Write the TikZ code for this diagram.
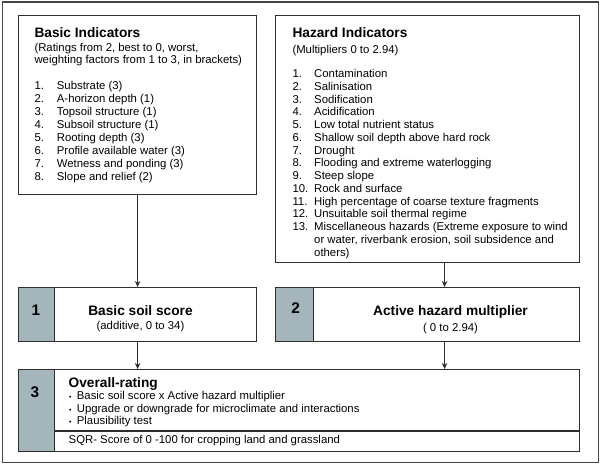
\documentclass[tikz,border=0pt]{standalone}
\usepackage{fontspec}
\setmainfont{Liberation Sans}
\usetikzlibrary{arrows.meta}
\definecolor{cellgray}{RGB}{165,181,188}
\definecolor{linecol}{RGB}{45,45,45}
\definecolor{framecol}{RGB}{70,70,70}
\begin{document}
\begin{tikzpicture}[x=1pt,y=-1pt,
  box/.style={draw=linecol,line width=1.2pt,rectangle,inner sep=0pt,anchor=north west},
  cell/.style={fill=cellgray,draw=linecol,line width=1.2pt,rectangle,inner sep=0pt,anchor=north west},
  ttl/.style={font=\fontsize{13.7}{15}\selectfont\bfseries,inner sep=0pt},
  txt/.style={font=\fontsize{11.35}{13}\selectfont,inner sep=0pt,anchor=base west},
  dig/.style={font=\fontsize{15.4}{16}\selectfont\bfseries,inner sep=0pt},
  arr/.style={draw=linecol,line width=1.1pt,-{Stealth[length=6pt,width=5.5pt]}}]
\useasboundingbox (0,0) rectangle (600,465);
% outer frame
\node[draw=framecol,line width=1.3pt,rectangle,inner sep=0pt,anchor=north west,minimum width=596pt,minimum height=460.5pt] (frame) at (1.5,1.5) {};
% basic indicators
\node[box,minimum width=238pt,minimum height=179pt] (basic) at (18,15) {};
\node[ttl,anchor=base west] (bt) at (34.3,37.3) {Basic Indicators};
\node[txt] (bs1) at (34.3,51.7) {(Ratings from 2, best to 0, worst,};
\node[txt] (bs2) at (34.3,63.5) {weighting factors from 1 to 3, in brackets)};
\foreach \t [count=\i] in {{Substrate (3)},{A-horizon depth (1)},{Topsoil structure (1)},{Subsoil structure (1)},{Rooting depth (3)},{Profile available water (3)},{Wetness and ponding (3)},{Slope and relief (2)}}{
  \node[txt] (bn\i) at (34.3,{90+(\i-1)*12.9}) {\i.};
  \node[txt] (bl\i) at (56.7,{90+(\i-1)*12.9}) {\t};
}
% hazard indicators
\node[box,minimum width=304pt,minimum height=247pt] (hazard) at (275,15) {};
\node[ttl,anchor=base west] (ht) at (292.3,37.3) {Hazard Indicators};
\node[txt] (hs1) at (292.3,54) {(Multipliers 0 to 2.94)};
\foreach \t [count=\i] in {{Contamination},{Salinisation},{Sodification},{Acidification},{Low total nutrient status},{Shallow soil depth above hard rock},{Drought},{Flooding and extreme waterlogging},{Steep slope},{Rock and surface},{High percentage of coarse texture fragments},{Unsuitable soil thermal regime},{Miscellaneous hazards (Extreme exposure to wind}}{
  \node[txt] (hn\i) at (292.3,{77.7+(\i-1)*12.75}) {\i.};
  \node[txt] (hl\i) at (314,{77.7+(\i-1)*12.75}) {\t};
}
\node[txt] (hc1) at (314,243.5) {or water, riverbank erosion, soil subsidence and};
\node[txt] (hc2) at (314,256.2) {others)};
% box 1
\node[box,minimum width=238pt,minimum height=54pt] (box1) at (18,287) {};
\node[cell,minimum width=36pt,minimum height=54pt] (cell1) at (18,287) {};
\node[dig] (d1) at (36,310) {1};
\node[ttl,anchor=base] (b1t) at (140.5,315.7) {Basic soil score};
\node[txt,anchor=base] (b1s) at (140.5,329) {(additive, 0 to 34)};
% box 2
\node[box,minimum width=304pt,minimum height=54pt] (box2) at (275,287) {};
\node[cell,minimum width=38pt,minimum height=54pt] (cell2) at (275,287) {};
\node[dig] (d2) at (295.7,308.5) {2};
\node[ttl,anchor=base] (b2t) at (450.5,316) {Active hazard multiplier};
\node[txt,anchor=base] (b2s) at (450.5,331) {( 0 to 2.94)};
% box 3
\node[box,minimum width=561pt,minimum height=82pt] (box3) at (18,369) {};
\node[cell,minimum width=36pt,minimum height=82pt] (cell3) at (18,369) {};
\coordinate (divl) at (54,431);
\coordinate (divr) at (579,431);
\draw[draw=linecol,line width=1.2pt] (divl) -- (divr);
\node[dig] (d3) at (35,392) {3};
\node[ttl,anchor=base west] (b3t) at (68.5,387.3) {Overall-rating};
\foreach \t [count=\i] in {{Basic soil score x Active hazard multiplier},{Upgrade or downgrade for microclimate and interactions},{Plausibility test}}{
  \node[txt,font=\fontsize{7}{8}\selectfont] (bu\i) at (68.8,{399.8+(\i-1)*12.5}) {•};
  \node[txt] (b3l\i) at (76.7,{399.8+(\i-1)*12.5}) {\t};
}
\node[txt] (sqr) at (68.5,443.5) {SQR- Score of 0 -100 for cropping land and grassland};
% arrows
\draw[arr] (basic.south) -- (box1.north);
\draw[arr] ([xshift=17pt]hazard.south) -- ([xshift=17pt]box2.north);
\draw[arr] (box1.south) -- (box1.south |- box3.north);
\draw[arr] ([xshift=17pt]box2.south) -- ([xshift=17pt]box2.south |- box3.north);
\end{tikzpicture}
\end{document}
